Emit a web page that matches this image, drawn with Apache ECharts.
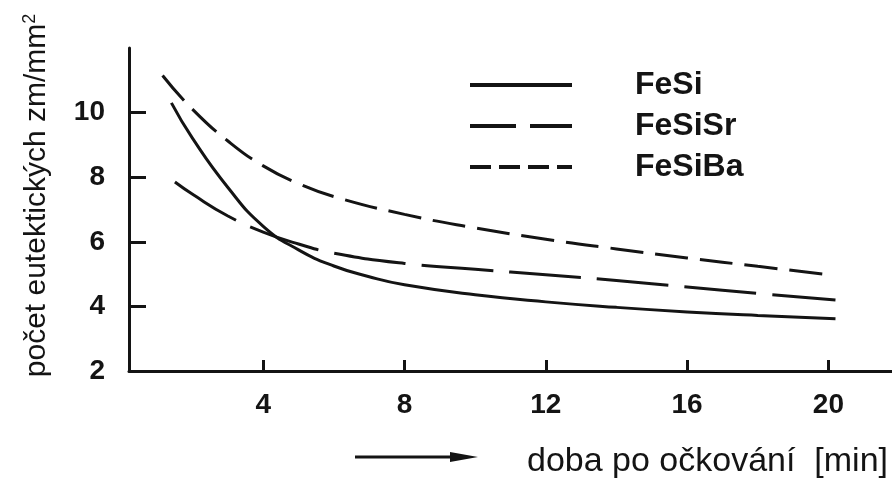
<!DOCTYPE html>
<html>
<head>
<meta charset="utf-8">
<script src="https://cdn.jsdelivr.net/npm/echarts@6/dist/echarts.min.js"></script>
<style>
html,body{margin:0;padding:0;background:#fff;}
#c{width:892px;height:478px;}
</style>
</head>
<body>
<div id="c"></div>
<script>
// ---- data ----
const seriesNames = ['FeSi', 'FeSiSr', 'FeSiBa'];
const feSiX   = [1.4, 2, 3, 4, 5, 6, 7, 8, 10, 12, 14, 16, 18, 20.2];
const feSiY   = [10.3, 9.2, 7.68, 6.48, 5.75, 5.25, 4.92, 4.67, 4.36, 4.14, 3.97, 3.83, 3.72, 3.62];
const feSiSrX = [1.5, 2, 3, 4, 5, 6, 8, 10, 12, 14, 16, 18, 20.2];
const feSiSrY = [7.85, 7.47, 6.8, 6.3, 5.93, 5.65, 5.33, 5.15, 4.98, 4.8, 4.6, 4.4, 4.2];
const feSiBaX = [1.15, 2, 3, 4, 5, 6, 8, 10, 12, 14, 16, 18, 20.1];
const feSiBaY = [11.15, 10.1, 9.12, 8.35, 7.8, 7.4, 6.85, 6.43, 6.08, 5.78, 5.5, 5.24, 4.97];
const xTicks = [4, 8, 12, 16, 20];
const yLabels = [2, 4, 6, 8, 10];
const yTicks = [4, 6, 8, 10];
const xTitle = 'doba po očkování  [min]';
const yTitle = 'počet eutektických zm/mm{sup|2}';

function pairs(xs, ys) { return xs.map((x, i) => [x, ys[i]]); }

const ink = '#141414';
const font = 'Liberation Sans, Arial, sans-serif';

const chart = echarts.init(document.getElementById('c'));
chart.setOption({
  backgroundColor: '#fff',
  animation: false,
  color: [ink, ink, ink],
  grid: { left: 129, right: 0, top: 48, bottom: 107 },
  title: {
    text: xTitle,
    left: 522, top: 440,
    textStyle: { fontFamily: font, fontSize: 34, fontWeight: 'normal', color: ink }
  },
  legend: {
    orient: 'vertical',
    left: 465, top: 64,
    itemWidth: 102, itemHeight: 4, itemGap: 9,
    itemStyle: { color: ink, borderWidth: 0 },
    textStyle: { fontFamily: font, fontSize: 32, fontWeight: 'bold', color: ink, padding: [0, 0, 0, 58] },
    data: [
      { name: 'FeSi', icon: 'path://M0,0H102V4H0Z' },
      { name: 'FeSiSr', icon: 'path://M0,0H46V4H0Z M60,0H102V4H60Z' },
      { name: 'FeSiBa', icon: 'path://M0,0H21V4H0Z M29,0H50V4H29Z M58,0H79V4H58Z M87,0H102V4H87Z' }
    ]
  },
  xAxis: {
    type: 'value', min: 0.2, max: 21.8,
    splitLine: { show: false },
    axisLine: { show: true, lineStyle: { color: ink, width: 3 } },
    axisTick: { show: true, inside: true, length: 11, customValues: xTicks, lineStyle: { color: ink, width: 3 } },
    axisLabel: { customValues: xTicks, margin: 20, fontFamily: font, fontSize: 28, fontWeight: 'bold', color: ink }
  },
  yAxis: {
    type: 'value', min: 2, max: 12,
    splitLine: { show: false },
    axisLine: { show: true, lineStyle: { color: ink, width: 3 } },
    axisTick: { show: true, inside: true, length: 17, customValues: yTicks, lineStyle: { color: ink, width: 3 } },
    axisLabel: { customValues: yLabels, margin: 24, fontFamily: font, fontSize: 28, fontWeight: 'bold', color: ink },
    name: yTitle,
    nameLocation: 'middle',
    nameRotate: 90,
    nameGap: 76,
    nameTextStyle: {
      fontFamily: font, fontSize: 30, color: ink, padding: [0, 0, 0, 28],
      rich: { sup: { fontFamily: font, fontSize: 18, color: ink, verticalAlign: 'top', padding: [0, 0, 14, 0] } }
    }
  },
  graphic: [
    { type: 'line', shape: { x1: 355, y1: 457, x2: 462, y2: 457 }, style: { stroke: ink, lineWidth: 3 } },
    { type: 'polygon', shape: { points: [[478, 457], [450, 452], [450, 462]] }, style: { fill: ink } }
  ],
  series: [
    { name: seriesNames[0], type: 'line', smooth: 0.5, symbol: 'none', data: pairs(feSiX, feSiY),
      itemStyle: { color: ink }, lineStyle: { color: ink, width: 3, type: 'solid' } },
    { name: seriesNames[1], type: 'line', smooth: 0.5, symbol: 'none', data: pairs(feSiSrX, feSiSrY),
      itemStyle: { color: ink }, lineStyle: { color: ink, width: 3, type: [72, 16] } },
    { name: seriesNames[2], type: 'line', smooth: 0.5, symbol: 'none', data: pairs(feSiBaX, feSiBaY),
      itemStyle: { color: ink }, lineStyle: { color: ink, width: 3, type: [33, 12] } }
  ]
});
</script>
</body>
</html>
